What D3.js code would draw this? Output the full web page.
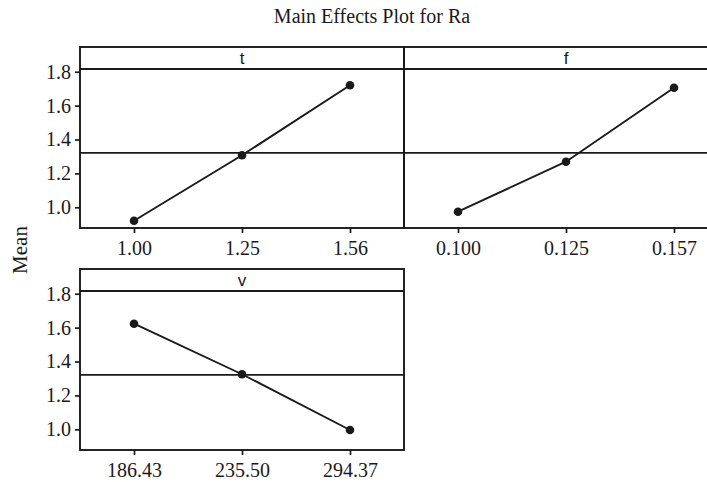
<!DOCTYPE html>
<html>
<head>
<meta charset="utf-8">
<script src="https://cdn.jsdelivr.net/npm/d3@7"></script>
<style>
  body { margin: 0; background: #fff; }
  svg { display: block; overflow: hidden; }
</style>
</head>
<body>
<div id="chart"></div>
<script>
// main effects data
var factors = ["t", "f", "v"];
var tLevels = ["1.00", "1.25", "1.56"];
var fLevels = ["0.100", "0.125", "0.157"];
var vLevels = ["186.43", "235.50", "294.37"];
var tMeans = [0.921, 1.307, 1.720];
var fMeans = [0.974, 1.269, 1.705];
var vMeans = [1.623, 1.325, 0.996];
var grandMean = 1.321;
var yTicks = [1.0, 1.2, 1.4, 1.6, 1.8];

var ink = "#1a1a1a";
var panelW = 324, panelH = 181, stripH = 22;
var serif = "'Liberation Serif', 'Times New Roman', serif";

var svg = d3.select("#chart")
  .append("svg")
  .attr("width", 707)
  .attr("height", 482);

svg.append("text")
  .attr("x", 372)
  .attr("y", 23)
  .attr("text-anchor", "middle")
  .style("font-family", serif)
  .style("font-size", "20px")
  .style("fill", ink)
  .text("Main Effects Plot for Ra");

svg.append("text")
  .attr("transform", "translate(27,250) rotate(-90)")
  .attr("text-anchor", "middle")
  .style("font-family", serif)
  .style("font-size", "21px")
  .style("fill", ink)
  .text("Mean");

var panels = [
  { name: factors[0], levels: tLevels, means: tMeans, x0: 80, y0: 47, yAxis: true },
  { name: factors[1], levels: fLevels, means: fMeans, x0: 404, y0: 47, yAxis: false },
  { name: factors[2], levels: vLevels, means: vMeans, x0: 80, y0: 269, yAxis: true }
];

panels.forEach(function(p) {
  var g = svg.append("g").attr("transform", "translate(" + p.x0 + "," + p.y0 + ")");

  var x = d3.scalePoint().domain(p.levels).range([0, panelW]).padding(0.5);
  var y = d3.scaleLinear().domain([0.878, 1.816]).range([panelH, stripH]);

  // reference line at the grand mean
  g.append("line")
    .attr("x1", 0).attr("x2", panelW)
    .attr("y1", y(grandMean)).attr("y2", y(grandMean))
    .style("stroke", ink).style("stroke-width", 1.7);

  // x axis
  var xa = g.append("g")
    .attr("transform", "translate(0," + panelH + ")")
    .call(d3.axisBottom(x).tickSize(5).tickPadding(8));
  styleAxis(xa);

  if (p.yAxis) {
    var ya = g.append("g")
      .call(d3.axisLeft(y).tickValues(yTicks).tickFormat(d3.format(".1f")).tickSize(5).tickPadding(4));
    styleAxis(ya);
  }

  // frame + strip
  g.append("rect")
    .attr("x", 0).attr("y", 0)
    .attr("width", panelW).attr("height", panelH)
    .style("fill", "none").style("stroke", ink).style("stroke-width", 1.9);
  g.append("line")
    .attr("x1", 0).attr("x2", panelW)
    .attr("y1", stripH).attr("y2", stripH)
    .style("stroke", ink).style("stroke-width", 2);
  g.append("text")
    .attr("x", panelW / 2)
    .attr("y", stripH - 5)
    .attr("text-anchor", "middle")
    .style("font-family", "'Liberation Sans', Arial, sans-serif")
    .style("font-size", "17px")
    .style("fill", ink)
    .text(p.name);

  var pts = p.levels.map(function(l, i) { return [l, p.means[i]]; });

  g.append("path")
    .datum(pts)
    .attr("d", d3.line().x(function(d) { return x(d[0]); }).y(function(d) { return y(d[1]); }))
    .style("fill", "none").style("stroke", ink).style("stroke-width", 1.9);

  g.selectAll(".pt")
    .data(pts)
    .enter().append("circle")
    .attr("class", "pt")
    .attr("cx", function(d) { return x(d[0]); })
    .attr("cy", function(d) { return y(d[1]); })
    .attr("r", 4.3)
    .style("fill", ink);
});

function styleAxis(a) {
  a.select(".domain").remove();
  a.selectAll("line").style("stroke", ink).style("stroke-width", 1.7);
  a.selectAll("text")
    .style("font-family", serif)
    .style("font-size", "20px")
    .style("fill", ink);
}
</script>
</body>
</html>
